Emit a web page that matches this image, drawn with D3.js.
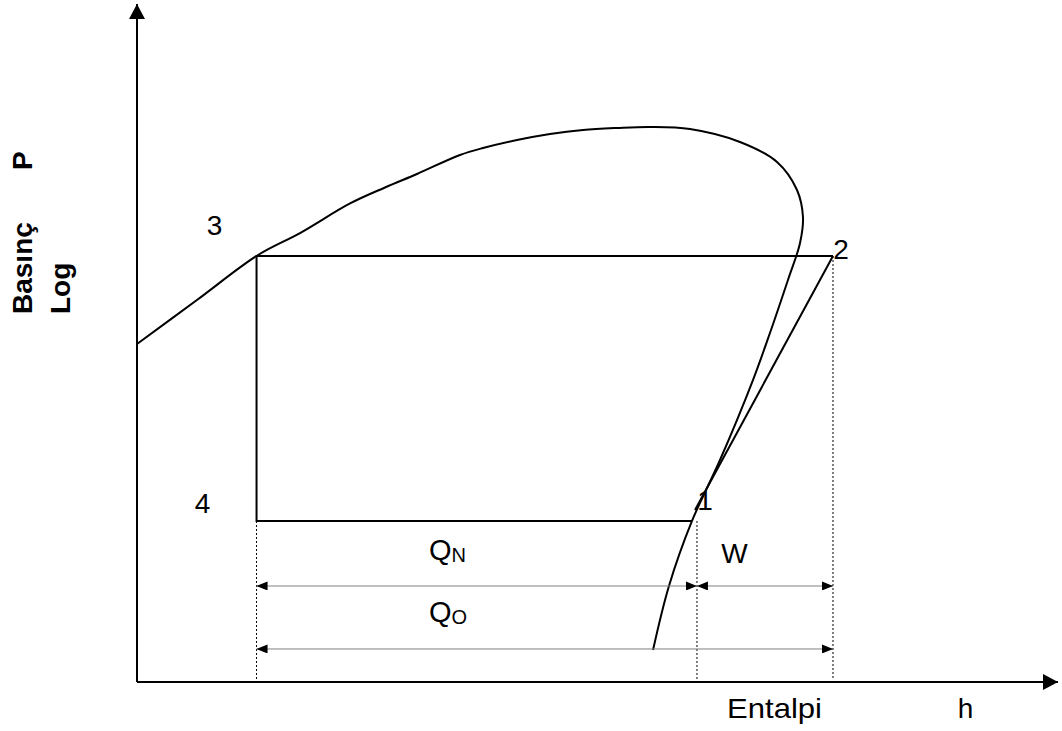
<!DOCTYPE html>
<html>
<head>
<meta charset="utf-8">
<script src="https://cdn.jsdelivr.net/npm/d3@7"></script>
<style>
  html, body { margin: 0; padding: 0; background: #fff; }
  svg { display: block; font-family: "Liberation Sans", Arial, sans-serif; }
</style>
</head>
<body>
<svg id="chart" width="1062" height="731"></svg>
<script>
// ---- data (arbitrary units: enthalpy h 0..100, log P 0..100) ----
const domeH = [0, 6.51, 13.14, 17.70, 23.13, 26.93, 30.40, 35.07, 37.57, 41.26, 44.84, 48.43, 52.12, 55.70, 60.04, 65.47, 69.49, 71.66, 72.31, 71.99, 70.68, 68.84, 66.88, 63.30, 60.26, 57.76, 56.03];
const domeP = [49.85, 56.34, 62.98, 66.22, 70.58, 72.94, 74.93, 77.73, 78.76, 79.94, 80.83, 81.42, 81.71, 81.86, 81.56, 79.65, 76.70, 72.57, 68.58, 64.75, 59.29, 51.92, 44.54, 32.74, 23.75, 14.16, 4.72];

// cycle state points: 1, 2, 3, 4
const stateNames = ["1", "2", "3", "4"];
const stateH = [60.26, 75.57, 12.98, 12.98];
const stateP = [23.75, 62.83, 62.83, 23.75];
// end of compression line near state 1
const compEndH = 60.59, compEndP = 25.37;

// enthalpy differences (dimension arrows)
const h1Proj = 60.80;           // projection of state 1 on h axis
const qnLevel = 14.16, qoLevel = 4.87;

const axisLabelX = ["Entalpi", "h"];
const axisLabelY = ["Basınç", "P", "Log"];

// ---- scales ----
const x = d3.scaleLinear().domain([0, 100]).range([137, 1058]);
const y = d3.scaleLinear().domain([0, 100]).range([682, 4]);

const svg = d3.select("#chart");
const defs = svg.append("defs");
defs.append("marker").attr("id", "arrEnd").attr("viewBox", "0 0 11 9")
  .attr("refX", 11).attr("refY", 4.5).attr("markerWidth", 11).attr("markerHeight", 9)
  .attr("markerUnits", "userSpaceOnUse").attr("orient", "auto")
  .append("path").attr("d", "M0,0 L11,4.5 L0,9 Z").attr("fill", "#000");
defs.append("marker").attr("id", "arrStart").attr("viewBox", "0 0 11 9")
  .attr("refX", 0).attr("refY", 4.5).attr("markerWidth", 11).attr("markerHeight", 9)
  .attr("markerUnits", "userSpaceOnUse").attr("orient", "auto")
  .append("path").attr("d", "M11,0 L0,4.5 L11,9 Z").attr("fill", "#000");
defs.append("marker").attr("id", "axArr").attr("viewBox", "0 0 15 16")
  .attr("refX", 15).attr("refY", 8).attr("markerWidth", 15).attr("markerHeight", 16)
  .attr("markerUnits", "userSpaceOnUse").attr("orient", "auto")
  .append("path").attr("d", "M0,0 L15,8 L0,16 Z").attr("fill", "#000");

// ---- axes ----
svg.append("line").attr("x1", x(0)).attr("y1", y(0)).attr("x2", x(0)).attr("y2", y(100))
  .attr("stroke", "#000").attr("stroke-width", 2).attr("marker-end", "url(#axArr)");
svg.append("line").attr("x1", x(0)).attr("y1", y(0)).attr("x2", x(100)).attr("y2", y(0))
  .attr("stroke", "#000").attr("stroke-width", 2).attr("marker-end", "url(#axArr)");

// ---- saturation dome ----
const domePts = domeH.map((h, i) => [h, domeP[i]]);
svg.append("path").datum(domePts)
  .attr("d", d3.line().x(d => x(d[0])).y(d => y(d[1])).curve(d3.curveCatmullRom.alpha(0.5)))
  .attr("fill", "none").attr("stroke", "#000").attr("stroke-width", 2);

// ---- cycle ----
const [i1, i2, i3, i4] = [0, 1, 2, 3];
const cyc = [[stateH[i2], stateP[i2]], [stateH[i3], stateP[i3]], [stateH[i4], stateP[i4]], [stateH[i1], stateP[i1]]];
svg.append("path").datum(cyc)
  .attr("d", d3.line().x(d => x(d[0])).y(d => y(d[1])))
  .attr("fill", "none").attr("stroke", "#000").attr("stroke-width", 2);
svg.append("line")
  .attr("x1", x(stateH[i2])).attr("y1", y(stateP[i2]))
  .attr("x2", x(compEndH)).attr("y2", y(compEndP))
  .attr("stroke", "#000").attr("stroke-width", 2);

// ---- dotted projection lines ----
const dots = [[stateH[i4], stateP[i4]], [h1Proj, stateP[i1]], [stateH[i2], stateP[i2]]];
svg.selectAll("line.proj").data(dots).join("line").attr("class", "proj")
  .attr("x1", d => x(d[0])).attr("x2", d => x(d[0]))
  .attr("y1", d => y(d[1])).attr("y2", y(0.3))
  .attr("stroke", "#000").attr("stroke-width", 1).attr("stroke-dasharray", "2,2");

// ---- dimension arrows ----
const dims = [
  [stateH[i4], h1Proj, qnLevel],
  [h1Proj, stateH[i2], qnLevel],
  [stateH[i4], stateH[i2], qoLevel]
];
svg.selectAll("line.dim").data(dims).join("line").attr("class", "dim")
  .attr("x1", d => x(d[0])).attr("x2", d => x(d[1]))
  .attr("y1", d => y(d[2])).attr("y2", d => y(d[2]))
  .attr("stroke", "#808080").attr("stroke-width", 1)
  .attr("marker-start", "url(#arrStart)").attr("marker-end", "url(#arrEnd)");

// ---- state labels ----
const labelPos = { "1": [705, 510], "2": [841, 259], "3": [214.5, 235], "4": [202.5, 513] };
stateNames.forEach(n => {
  svg.append("text").attr("x", labelPos[n][0]).attr("y", labelPos[n][1])
    .attr("text-anchor", "middle").attr("font-size", 28).attr("fill", "#000").text(n);
});

// ---- Q labels ----
function qLabel(xp, yp, sub) {
  const t = svg.append("text").attr("x", xp).attr("y", yp).attr("font-size", 29).attr("fill", "#000");
  t.append("tspan").text("Q");
  t.append("tspan").attr("font-size", 20).attr("dy", 2).text(sub);
}
qLabel(429, 560, "N");
qLabel(429, 622, "O");
svg.append("text").attr("x", 734.5).attr("y", 563).attr("text-anchor", "middle")
  .attr("font-size", 28).text("W");

// ---- axis labels ----
svg.append("text").attr("x", 727).attr("y", 718).attr("font-size", 28)
  .attr("textLength", 95).attr("lengthAdjust", "spacingAndGlyphs").text(axisLabelX[0]);
svg.append("text").attr("x", 965.5).attr("y", 718).attr("text-anchor", "middle")
  .attr("font-size", 28).text(axisLabelX[1]);

svg.append("text").attr("transform", "translate(32,314) rotate(-90)")
  .attr("font-size", 28).attr("font-weight", "bold").text(axisLabelY[0]);
svg.append("text").attr("transform", "translate(32,170) rotate(-90)")
  .attr("font-size", 28).attr("font-weight", "bold").text(axisLabelY[1]);
svg.append("text").attr("transform", "translate(70,314) rotate(-90)")
  .attr("font-size", 28).attr("font-weight", "bold").text(axisLabelY[2]);
</script>
</body>
</html>
